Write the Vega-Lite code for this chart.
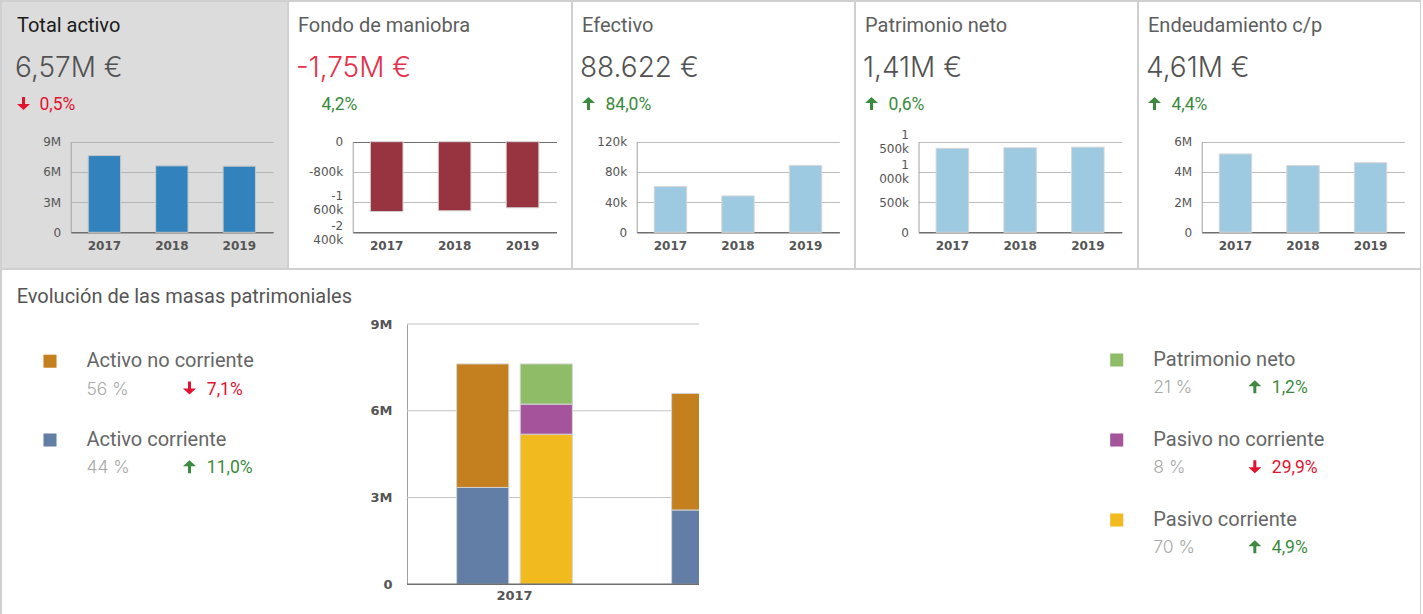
{
  "$schema": "https://vega.github.io/schema/vega-lite/v6.json",
  "background": "#d0d0d0",
  "padding": {"left": 2, "top": 2, "right": 1, "bottom": 0},
  "datasets": {
    "kpis": [
      {"kpi": "Total activo", "value": "6,57M €", "arrow": "down", "change": "0,5%", "dir": "down"},
      {"kpi": "Fondo de maniobra", "value": "-1,75M €", "arrow": "none", "change": "4,2%", "dir": "up"},
      {"kpi": "Efectivo", "value": "88.622 €", "arrow": "up", "change": "84,0%", "dir": "up"},
      {"kpi": "Patrimonio neto", "value": "1,41M €", "arrow": "up", "change": "0,6%", "dir": "up"},
      {"kpi": "Endeudamiento c/p", "value": "4,61M €", "arrow": "up", "change": "4,4%", "dir": "up"}
    ],
    "series": [
      {"kpi": "Total activo", "year": "2017", "value": 7620000},
      {"kpi": "Total activo", "year": "2018", "value": 6600000},
      {"kpi": "Total activo", "year": "2019", "value": 6570000},
      {"kpi": "Fondo de maniobra", "year": "2017", "value": -1850000},
      {"kpi": "Fondo de maniobra", "year": "2018", "value": -1830000},
      {"kpi": "Fondo de maniobra", "year": "2019", "value": -1750000},
      {"kpi": "Efectivo", "year": "2017", "value": 60500},
      {"kpi": "Efectivo", "year": "2018", "value": 48200},
      {"kpi": "Efectivo", "year": "2019", "value": 88622},
      {"kpi": "Patrimonio neto", "year": "2017", "value": 1390000},
      {"kpi": "Patrimonio neto", "year": "2018", "value": 1400000},
      {"kpi": "Patrimonio neto", "year": "2019", "value": 1410000},
      {"kpi": "Endeudamiento c/p", "year": "2017", "value": 5190000},
      {"kpi": "Endeudamiento c/p", "year": "2018", "value": 4420000},
      {"kpi": "Endeudamiento c/p", "year": "2019", "value": 4610000}
    ],
    "masses": [
      {"year": "2017", "side": "Activo", "mass": "Activo corriente", "value": 3350000},
      {"year": "2017", "side": "Activo", "mass": "Activo no corriente", "value": 4270000},
      {"year": "2017", "side": "Pasivo", "mass": "Pasivo corriente", "value": 5190000},
      {"year": "2017", "side": "Pasivo", "mass": "Pasivo no corriente", "value": 1040000},
      {"year": "2017", "side": "Pasivo", "mass": "Patrimonio neto", "value": 1390000},
      {"year": "2018", "side": "Activo", "mass": "Activo corriente", "value": 2570000},
      {"year": "2018", "side": "Activo", "mass": "Activo no corriente", "value": 4030000},
      {"year": "2018", "side": "Pasivo", "mass": "Pasivo corriente", "value": 4420000},
      {"year": "2018", "side": "Pasivo", "mass": "Pasivo no corriente", "value": 780000},
      {"year": "2018", "side": "Pasivo", "mass": "Patrimonio neto", "value": 1400000},
      {"year": "2019", "side": "Activo", "mass": "Activo corriente", "value": 2860000},
      {"year": "2019", "side": "Activo", "mass": "Activo no corriente", "value": 3710000},
      {"year": "2019", "side": "Pasivo", "mass": "Pasivo corriente", "value": 4610000},
      {"year": "2019", "side": "Pasivo", "mass": "Pasivo no corriente", "value": 550000},
      {"year": "2019", "side": "Pasivo", "mass": "Patrimonio neto", "value": 1410000}
    ],
    "legend": [
      {"panel": "left", "mass": "Activo no corriente", "share": "56 %", "arrow": "down", "change": "7,1%", "dir": "down"},
      {"panel": "left", "mass": "Activo corriente", "share": "44 %", "arrow": "up", "change": "11,0%", "dir": "up"},
      {"panel": "right", "mass": "Patrimonio neto", "share": "21 %", "arrow": "up", "change": "1,2%", "dir": "up"},
      {"panel": "right", "mass": "Pasivo no corriente", "share": "8 %", "arrow": "down", "change": "29,9%", "dir": "down"},
      {"panel": "right", "mass": "Pasivo corriente", "share": "70 %", "arrow": "up", "change": "4,9%", "dir": "up"}
    ],
    "heading": [
      {"heading": "Evolución de las masas patrimoniales"}
    ]
  },
  "spacing": 2,
  "resolve": {"scale": {"color": "independent", "shape": "independent"}},
  "vconcat": [
    {
      "spacing": 2,
      "bounds": "flush",
      "resolve": {"scale": {"color": "independent", "shape": "independent"}},
      "hconcat": [
        {
          "width": 285, "height": 266,
          "view": {"fill": "#dcdcdc", "stroke": null},
          "resolve": {"scale": {"x": "independent", "y": "independent"}},
          "layer": [
            {
              "data": {"name": "series"},
              "transform": [{"filter": "datum.kpi === 'Total activo'"}],
              "mark": {"type": "bar", "color": "#3182bd", "stroke": "#c8c8c8", "strokeWidth": 1},
              "encoding": {
                "x": {"field": "year", "type": "nominal", "scale": {"range": [68.7, 271], "paddingInner": 0.52, "paddingOuter": 0.26}, "axis": {"title": null, "offset": -35.7, "labelAngle": 0, "labelPadding": 8}},
                "y": {"field": "value", "type": "quantitative", "scale": {"domain": [0, 9000000], "range": [230.3, 139.7], "nice": false}, "axis": {"title": null, "values": [0, 3000000, 6000000, 9000000], "labelExpr": "datum.value == 0 ? '0' : format(datum.value, '~s')", "offset": -68.7, "labelPadding": 10, "labelLineHeight": 14, "gridColor": {"condition": {"test": "datum.value === 0", "value": "#6e6e6e"}, "value": "#b4b4b4"}}}
              }
            },
            {
              "data": {"name": "kpis"},
              "transform": [{"filter": "datum.kpi === 'Total activo'"}],
              "layer": [
                {"mark": {"type": "text", "align": "left", "baseline": "alphabetic", "fontSize": 20, "color": "#1a1a1a"},
                 "encoding": {"x": {"datum": "lead", "type": "nominal", "scale": {"type": "point", "domain": ["lead", "pct"], "range": [15, 37.5], "padding": 0}, "axis": null}, "y": {"datum": "title", "type": "nominal", "scale": {"type": "point", "domain": ["title", "value", "change"], "range": [30.3, 108], "padding": 0}, "axis": null}, "text": {"field": "kpi"}}},
                {"mark": {"type": "text", "align": "left", "baseline": "alphabetic", "font": "Inter", "fontSize": 28, "fontWeight": 300, "color": "#525252", "dx": -2, "dy": 6.2},
                 "encoding": {"x": {"datum": "lead", "type": "nominal", "scale": {"type": "point", "domain": ["lead", "pct"], "range": [15, 37.5], "padding": 0}, "axis": null}, "y": {"datum": "value", "type": "nominal", "scale": {"type": "point", "domain": ["title", "value", "change"], "range": [30.3, 108], "padding": 0}, "axis": null}, "text": {"field": "value"}}},
                {"transform": [{"filter": "datum.arrow !== 'none'"}],
                 "mark": {"type": "point", "filled": true, "size": 169, "opacity": 1},
                 "encoding": {"x": {"datum": "lead", "type": "nominal", "scale": {"type": "point", "domain": ["lead", "pct"], "range": [15, 37.5], "padding": 0}, "axis": null}, "y": {"datum": "change", "type": "nominal", "scale": {"type": "point", "domain": ["title", "value", "change"], "range": [30.3, 108], "padding": 0}, "axis": null}, "shape": {"field": "arrow", "type": "nominal", "scale": {"domain": ["down", "up"], "range": ["M0.77,-2 L1.23,-2 L1.23,-0.92 L2,-0.92 L1,0 L0,-0.92 L0.77,-0.92 Z", "M1,-2 L2,-1.08 L1.23,-1.08 L1.23,0 L0.77,0 L0.77,-1.08 L0,-1.08 Z"]}, "legend": null}, "color": {"field": "dir", "type": "nominal", "scale": {"domain": ["down", "up"], "range": ["#e3122f", "#3b8a3d"]}, "legend": null}}},
                {"mark": {"type": "text", "align": "left", "baseline": "alphabetic", "fontSize": 17.5},
                 "encoding": {"x": {"datum": "pct", "type": "nominal", "scale": {"type": "point", "domain": ["lead", "pct"], "range": [15, 37.5], "padding": 0}, "axis": null}, "y": {"datum": "change", "type": "nominal", "scale": {"type": "point", "domain": ["title", "value", "change"], "range": [30.3, 108], "padding": 0}, "axis": null}, "text": {"field": "change"}, "color": {"field": "dir", "type": "nominal", "scale": {"domain": ["down", "up"], "range": ["#e3122f", "#3b8a3d"]}, "legend": null}}}
              ]
            }
          ]
        },
        {
          "width": 282, "height": 266,
          "view": {"fill": "#ffffff", "stroke": null},
          "resolve": {"scale": {"x": "independent", "y": "independent"}},
          "layer": [
            {
              "data": {"name": "series"},
              "transform": [{"filter": "datum.kpi === 'Fondo de maniobra'"}],
              "mark": {"type": "bar", "color": "#973440", "stroke": "#d0d0d0", "strokeWidth": 1},
              "encoding": {
                "x": {"field": "year", "type": "nominal", "scale": {"range": [63.7, 267.5], "paddingInner": 0.52, "paddingOuter": 0.26}, "axis": {"title": null, "offset": -35.7, "labelAngle": 0, "labelPadding": 8}},
                "y": {"field": "value", "type": "quantitative", "scale": {"domain": [-2400000, 0], "range": [230.3, 139.7], "nice": false}, "axis": {"title": null, "values": [0, -800000, -1600000, -2400000], "labelExpr": "datum.value == 0 ? '0' : abs(datum.value) >= 1000000 ? [(datum.value < 0 ? '-' : '') + floor(abs(datum.value) / 1000000), format((abs(datum.value) % 1000000) / 1000, '03d') + 'k'] : (datum.value < 0 ? '-' : '') + (abs(datum.value) / 1000) + 'k'", "labelOffset": {"condition": {"test": "abs(datum.value) >= 1000000", "value": -7}, "value": 0}, "offset": -63.7, "labelPadding": 10, "labelLineHeight": 14, "gridColor": {"condition": {"test": "datum.value === 0", "value": "#6e6e6e"}, "value": "#bdbdbd"}}}
              }
            },
            {
              "data": {"name": "kpis"},
              "transform": [{"filter": "datum.kpi === 'Fondo de maniobra'"}],
              "layer": [
                {"mark": {"type": "text", "align": "left", "baseline": "alphabetic", "fontSize": 20, "color": "#5e5e5e"},
                 "encoding": {"x": {"datum": "lead", "type": "nominal", "scale": {"type": "point", "domain": ["lead", "pct"], "range": [9, 32.5], "padding": 0}, "axis": null}, "y": {"datum": "title", "type": "nominal", "scale": {"type": "point", "domain": ["title", "value", "change"], "range": [30.3, 108], "padding": 0}, "axis": null}, "text": {"field": "kpi"}}},
                {"mark": {"type": "text", "align": "left", "baseline": "alphabetic", "font": "Inter", "fontSize": 28, "fontWeight": 300, "color": "#e5304a", "dx": -2, "dy": 6.2},
                 "encoding": {"x": {"datum": "lead", "type": "nominal", "scale": {"type": "point", "domain": ["lead", "pct"], "range": [9, 32.5], "padding": 0}, "axis": null}, "y": {"datum": "value", "type": "nominal", "scale": {"type": "point", "domain": ["title", "value", "change"], "range": [30.3, 108], "padding": 0}, "axis": null}, "text": {"field": "value"}}},
                {"transform": [{"filter": "datum.arrow !== 'none'"}],
                 "mark": {"type": "point", "filled": true, "size": 169, "opacity": 1},
                 "encoding": {"x": {"datum": "lead", "type": "nominal", "scale": {"type": "point", "domain": ["lead", "pct"], "range": [9, 32.5], "padding": 0}, "axis": null}, "y": {"datum": "change", "type": "nominal", "scale": {"type": "point", "domain": ["title", "value", "change"], "range": [30.3, 108], "padding": 0}, "axis": null}, "shape": {"field": "arrow", "type": "nominal", "scale": {"domain": ["down", "up"], "range": ["M0.77,-2 L1.23,-2 L1.23,-0.92 L2,-0.92 L1,0 L0,-0.92 L0.77,-0.92 Z", "M1,-2 L2,-1.08 L1.23,-1.08 L1.23,0 L0.77,0 L0.77,-1.08 L0,-1.08 Z"]}, "legend": null}, "color": {"field": "dir", "type": "nominal", "scale": {"domain": ["down", "up"], "range": ["#e3122f", "#3b8a3d"]}, "legend": null}}},
                {"mark": {"type": "text", "align": "left", "baseline": "alphabetic", "fontSize": 17.5},
                 "encoding": {"x": {"datum": "pct", "type": "nominal", "scale": {"type": "point", "domain": ["lead", "pct"], "range": [9, 32.5], "padding": 0}, "axis": null}, "y": {"datum": "change", "type": "nominal", "scale": {"type": "point", "domain": ["title", "value", "change"], "range": [30.3, 108], "padding": 0}, "axis": null}, "text": {"field": "change"}, "color": {"field": "dir", "type": "nominal", "scale": {"domain": ["down", "up"], "range": ["#e3122f", "#3b8a3d"]}, "legend": null}}}
              ]
            }
          ]
        },
        {
          "width": 281, "height": 266,
          "view": {"fill": "#ffffff", "stroke": null},
          "resolve": {"scale": {"x": "independent", "y": "independent"}},
          "layer": [
            {
              "data": {"name": "series"},
              "transform": [{"filter": "datum.kpi === 'Efectivo'"}],
              "mark": {"type": "bar", "color": "#9ecae1", "stroke": "#d6d6d6", "strokeWidth": 1},
              "encoding": {
                "x": {"field": "year", "type": "nominal", "scale": {"range": [63.7, 266.3], "paddingInner": 0.52, "paddingOuter": 0.26}, "axis": {"title": null, "offset": -35.7, "labelAngle": 0, "labelPadding": 8}},
                "y": {"field": "value", "type": "quantitative", "scale": {"domain": [0, 120000], "range": [230.3, 139.7], "nice": false}, "axis": {"title": null, "values": [0, 40000, 80000, 120000], "labelExpr": "datum.value == 0 ? '0' : format(datum.value, '~s')", "offset": -63.7, "labelPadding": 10, "labelLineHeight": 14, "gridColor": {"condition": {"test": "datum.value === 0", "value": "#6e6e6e"}, "value": "#bdbdbd"}}}
              }
            },
            {
              "data": {"name": "kpis"},
              "transform": [{"filter": "datum.kpi === 'Efectivo'"}],
              "layer": [
                {"mark": {"type": "text", "align": "left", "baseline": "alphabetic", "fontSize": 20, "color": "#5e5e5e"},
                 "encoding": {"x": {"datum": "lead", "type": "nominal", "scale": {"type": "point", "domain": ["lead", "pct"], "range": [9, 32.5], "padding": 0}, "axis": null}, "y": {"datum": "title", "type": "nominal", "scale": {"type": "point", "domain": ["title", "value", "change"], "range": [30.3, 108], "padding": 0}, "axis": null}, "text": {"field": "kpi"}}},
                {"mark": {"type": "text", "align": "left", "baseline": "alphabetic", "font": "Inter", "fontSize": 28, "fontWeight": 300, "color": "#525252", "dx": -2, "dy": 6.2},
                 "encoding": {"x": {"datum": "lead", "type": "nominal", "scale": {"type": "point", "domain": ["lead", "pct"], "range": [9, 32.5], "padding": 0}, "axis": null}, "y": {"datum": "value", "type": "nominal", "scale": {"type": "point", "domain": ["title", "value", "change"], "range": [30.3, 108], "padding": 0}, "axis": null}, "text": {"field": "value"}}},
                {"transform": [{"filter": "datum.arrow !== 'none'"}],
                 "mark": {"type": "point", "filled": true, "size": 169, "opacity": 1},
                 "encoding": {"x": {"datum": "lead", "type": "nominal", "scale": {"type": "point", "domain": ["lead", "pct"], "range": [9, 32.5], "padding": 0}, "axis": null}, "y": {"datum": "change", "type": "nominal", "scale": {"type": "point", "domain": ["title", "value", "change"], "range": [30.3, 108], "padding": 0}, "axis": null}, "shape": {"field": "arrow", "type": "nominal", "scale": {"domain": ["down", "up"], "range": ["M0.77,-2 L1.23,-2 L1.23,-0.92 L2,-0.92 L1,0 L0,-0.92 L0.77,-0.92 Z", "M1,-2 L2,-1.08 L1.23,-1.08 L1.23,0 L0.77,0 L0.77,-1.08 L0,-1.08 Z"]}, "legend": null}, "color": {"field": "dir", "type": "nominal", "scale": {"domain": ["down", "up"], "range": ["#e3122f", "#3b8a3d"]}, "legend": null}}},
                {"mark": {"type": "text", "align": "left", "baseline": "alphabetic", "fontSize": 17.5},
                 "encoding": {"x": {"datum": "pct", "type": "nominal", "scale": {"type": "point", "domain": ["lead", "pct"], "range": [9, 32.5], "padding": 0}, "axis": null}, "y": {"datum": "change", "type": "nominal", "scale": {"type": "point", "domain": ["title", "value", "change"], "range": [30.3, 108], "padding": 0}, "axis": null}, "text": {"field": "change"}, "color": {"field": "dir", "type": "nominal", "scale": {"domain": ["down", "up"], "range": ["#e3122f", "#3b8a3d"]}, "legend": null}}}
              ]
            }
          ]
        },
        {
          "width": 281, "height": 266,
          "view": {"fill": "#ffffff", "stroke": null},
          "resolve": {"scale": {"x": "independent", "y": "independent"}},
          "layer": [
            {
              "data": {"name": "series"},
              "transform": [{"filter": "datum.kpi === 'Patrimonio neto'"}],
              "mark": {"type": "bar", "color": "#9ecae1", "stroke": "#d6d6d6", "strokeWidth": 1},
              "encoding": {
                "x": {"field": "year", "type": "nominal", "scale": {"range": [62.5, 265.7], "paddingInner": 0.52, "paddingOuter": 0.26}, "axis": {"title": null, "offset": -35.7, "labelAngle": 0, "labelPadding": 8}},
                "y": {"field": "value", "type": "quantitative", "scale": {"domain": [0, 1500000], "range": [230.3, 139.7], "nice": false}, "axis": {"title": null, "values": [0, 500000, 1000000, 1500000], "labelExpr": "datum.value == 0 ? '0' : abs(datum.value) >= 1000000 ? [(datum.value < 0 ? '-' : '') + floor(abs(datum.value) / 1000000), format((abs(datum.value) % 1000000) / 1000, '03d') + 'k'] : (datum.value < 0 ? '-' : '') + (abs(datum.value) / 1000) + 'k'", "labelOffset": {"condition": {"test": "abs(datum.value) >= 1000000", "value": -7}, "value": 0}, "offset": -62.5, "labelPadding": 10, "labelLineHeight": 14, "gridColor": {"condition": {"test": "datum.value === 0", "value": "#6e6e6e"}, "value": "#bdbdbd"}}}
              }
            },
            {
              "data": {"name": "kpis"},
              "transform": [{"filter": "datum.kpi === 'Patrimonio neto'"}],
              "layer": [
                {"mark": {"type": "text", "align": "left", "baseline": "alphabetic", "fontSize": 20, "color": "#5e5e5e"},
                 "encoding": {"x": {"datum": "lead", "type": "nominal", "scale": {"type": "point", "domain": ["lead", "pct"], "range": [9, 32.5], "padding": 0}, "axis": null}, "y": {"datum": "title", "type": "nominal", "scale": {"type": "point", "domain": ["title", "value", "change"], "range": [30.3, 108], "padding": 0}, "axis": null}, "text": {"field": "kpi"}}},
                {"mark": {"type": "text", "align": "left", "baseline": "alphabetic", "font": "Inter", "fontSize": 28, "fontWeight": 300, "color": "#525252", "dx": -2, "dy": 6.2},
                 "encoding": {"x": {"datum": "lead", "type": "nominal", "scale": {"type": "point", "domain": ["lead", "pct"], "range": [9, 32.5], "padding": 0}, "axis": null}, "y": {"datum": "value", "type": "nominal", "scale": {"type": "point", "domain": ["title", "value", "change"], "range": [30.3, 108], "padding": 0}, "axis": null}, "text": {"field": "value"}}},
                {"transform": [{"filter": "datum.arrow !== 'none'"}],
                 "mark": {"type": "point", "filled": true, "size": 169, "opacity": 1},
                 "encoding": {"x": {"datum": "lead", "type": "nominal", "scale": {"type": "point", "domain": ["lead", "pct"], "range": [9, 32.5], "padding": 0}, "axis": null}, "y": {"datum": "change", "type": "nominal", "scale": {"type": "point", "domain": ["title", "value", "change"], "range": [30.3, 108], "padding": 0}, "axis": null}, "shape": {"field": "arrow", "type": "nominal", "scale": {"domain": ["down", "up"], "range": ["M0.77,-2 L1.23,-2 L1.23,-0.92 L2,-0.92 L1,0 L0,-0.92 L0.77,-0.92 Z", "M1,-2 L2,-1.08 L1.23,-1.08 L1.23,0 L0.77,0 L0.77,-1.08 L0,-1.08 Z"]}, "legend": null}, "color": {"field": "dir", "type": "nominal", "scale": {"domain": ["down", "up"], "range": ["#e3122f", "#3b8a3d"]}, "legend": null}}},
                {"mark": {"type": "text", "align": "left", "baseline": "alphabetic", "fontSize": 17.5},
                 "encoding": {"x": {"datum": "pct", "type": "nominal", "scale": {"type": "point", "domain": ["lead", "pct"], "range": [9, 32.5], "padding": 0}, "axis": null}, "y": {"datum": "change", "type": "nominal", "scale": {"type": "point", "domain": ["title", "value", "change"], "range": [30.3, 108], "padding": 0}, "axis": null}, "text": {"field": "change"}, "color": {"field": "dir", "type": "nominal", "scale": {"domain": ["down", "up"], "range": ["#e3122f", "#3b8a3d"]}, "legend": null}}}
              ]
            }
          ]
        },
        {
          "width": 281, "height": 266,
          "view": {"fill": "#ffffff", "stroke": null},
          "resolve": {"scale": {"x": "independent", "y": "independent"}},
          "layer": [
            {
              "data": {"name": "series"},
              "transform": [{"filter": "datum.kpi === 'Endeudamiento c/p'"}],
              "mark": {"type": "bar", "color": "#9ecae1", "stroke": "#d6d6d6", "strokeWidth": 1},
              "encoding": {
                "x": {"field": "year", "type": "nominal", "scale": {"range": [62.7, 265.3], "paddingInner": 0.52, "paddingOuter": 0.26}, "axis": {"title": null, "offset": -35.7, "labelAngle": 0, "labelPadding": 8}},
                "y": {"field": "value", "type": "quantitative", "scale": {"domain": [0, 6000000], "range": [230.3, 139.7], "nice": false}, "axis": {"title": null, "values": [0, 2000000, 4000000, 6000000], "labelExpr": "datum.value == 0 ? '0' : format(datum.value, '~s')", "offset": -62.7, "labelPadding": 10, "labelLineHeight": 14, "gridColor": {"condition": {"test": "datum.value === 0", "value": "#6e6e6e"}, "value": "#bdbdbd"}}}
              }
            },
            {
              "data": {"name": "kpis"},
              "transform": [{"filter": "datum.kpi === 'Endeudamiento c/p'"}],
              "layer": [
                {"mark": {"type": "text", "align": "left", "baseline": "alphabetic", "fontSize": 20, "color": "#5e5e5e"},
                 "encoding": {"x": {"datum": "lead", "type": "nominal", "scale": {"type": "point", "domain": ["lead", "pct"], "range": [9, 32.5], "padding": 0}, "axis": null}, "y": {"datum": "title", "type": "nominal", "scale": {"type": "point", "domain": ["title", "value", "change"], "range": [30.3, 108], "padding": 0}, "axis": null}, "text": {"field": "kpi"}}},
                {"mark": {"type": "text", "align": "left", "baseline": "alphabetic", "font": "Inter", "fontSize": 28, "fontWeight": 300, "color": "#525252", "dx": -2, "dy": 6.2},
                 "encoding": {"x": {"datum": "lead", "type": "nominal", "scale": {"type": "point", "domain": ["lead", "pct"], "range": [9, 32.5], "padding": 0}, "axis": null}, "y": {"datum": "value", "type": "nominal", "scale": {"type": "point", "domain": ["title", "value", "change"], "range": [30.3, 108], "padding": 0}, "axis": null}, "text": {"field": "value"}}},
                {"transform": [{"filter": "datum.arrow !== 'none'"}],
                 "mark": {"type": "point", "filled": true, "size": 169, "opacity": 1},
                 "encoding": {"x": {"datum": "lead", "type": "nominal", "scale": {"type": "point", "domain": ["lead", "pct"], "range": [9, 32.5], "padding": 0}, "axis": null}, "y": {"datum": "change", "type": "nominal", "scale": {"type": "point", "domain": ["title", "value", "change"], "range": [30.3, 108], "padding": 0}, "axis": null}, "shape": {"field": "arrow", "type": "nominal", "scale": {"domain": ["down", "up"], "range": ["M0.77,-2 L1.23,-2 L1.23,-0.92 L2,-0.92 L1,0 L0,-0.92 L0.77,-0.92 Z", "M1,-2 L2,-1.08 L1.23,-1.08 L1.23,0 L0.77,0 L0.77,-1.08 L0,-1.08 Z"]}, "legend": null}, "color": {"field": "dir", "type": "nominal", "scale": {"domain": ["down", "up"], "range": ["#e3122f", "#3b8a3d"]}, "legend": null}}},
                {"mark": {"type": "text", "align": "left", "baseline": "alphabetic", "fontSize": 17.5},
                 "encoding": {"x": {"datum": "pct", "type": "nominal", "scale": {"type": "point", "domain": ["lead", "pct"], "range": [9, 32.5], "padding": 0}, "axis": null}, "y": {"datum": "change", "type": "nominal", "scale": {"type": "point", "domain": ["title", "value", "change"], "range": [30.3, 108], "padding": 0}, "axis": null}, "text": {"field": "change"}, "color": {"field": "dir", "type": "nominal", "scale": {"domain": ["down", "up"], "range": ["#e3122f", "#3b8a3d"]}, "legend": null}}}
              ]
            }
          ]
        }
      ]
    },
    {
      "spacing": 0,
      "bounds": "flush",
      "resolve": {"scale": {"color": "independent", "shape": "independent"}},
      "hconcat": [
        {
          "width": 405, "height": 344,
          "view": {"fill": "#ffffff", "stroke": null},
          "resolve": {"scale": {"x": "independent", "y": "independent"}},
          "layer": [
            {
              "data": {"name": "heading"},
              "mark": {"type": "text", "align": "left", "baseline": "alphabetic", "fontSize": 20, "color": "#555555"},
              "encoding": {
                "x": {"datum": "title", "type": "nominal", "scale": {"type": "point", "domain": ["title"], "range": [14.7, 14.7], "padding": 0}, "axis": null},
                "y": {"datum": "title", "type": "nominal", "scale": {"type": "point", "domain": ["title"], "range": [33.3, 33.3], "padding": 0}, "axis": null},
                "text": {"field": "heading"}
              }
            },
            {
              "data": {"name": "legend"},
              "transform": [{"filter": "datum.panel === 'left'"}],
              "resolve": {"scale": {"color": "independent"}},
              "layer": [
                {"mark": {"type": "square", "size": 170, "opacity": 1},
                 "encoding": {"x": {"datum": "swatch", "type": "nominal", "scale": {"type": "point", "domain": ["swatch", "label"], "range": [48, 84.4], "padding": 0}, "axis": null}, "y": {"field": "mass", "type": "nominal", "scale": {"type": "point", "domain": ["Activo no corriente", "Activo corriente"], "range": [91.2, 170], "padding": 0}, "axis": null}, "color": {"field": "mass", "type": "nominal", "scale": {"domain": ["Activo no corriente", "Activo corriente", "Patrimonio neto", "Pasivo no corriente", "Pasivo corriente"], "range": ["#c47f1f", "#627ea6", "#8fbd67", "#a5539b", "#f1bb1f"]}, "legend": null}}},
                {"mark": {"type": "text", "align": "left", "baseline": "middle", "fontSize": 20, "color": "#666666"},
                 "encoding": {"x": {"datum": "label", "type": "nominal", "scale": {"type": "point", "domain": ["swatch", "label"], "range": [48, 84.4], "padding": 0}, "axis": null}, "y": {"field": "mass", "type": "nominal", "scale": {"type": "point", "domain": ["Activo no corriente", "Activo corriente"], "range": [91.2, 170], "padding": 0}, "axis": null}, "text": {"field": "mass"}}},
                {"mark": {"type": "text", "align": "left", "baseline": "middle", "font": "Inter", "fontSize": 17.5, "fontWeight": 300, "color": "#a8a8a8", "dy": 28.3},
                 "encoding": {"x": {"datum": "label", "type": "nominal", "scale": {"type": "point", "domain": ["swatch", "label"], "range": [48, 84.4], "padding": 0}, "axis": null}, "y": {"field": "mass", "type": "nominal", "scale": {"type": "point", "domain": ["Activo no corriente", "Activo corriente"], "range": [91.2, 170], "padding": 0}, "axis": null}, "text": {"field": "share"}}},
                {"mark": {"type": "point", "filled": true, "size": 169, "opacity": 1},
                 "encoding": {"x": {"datum": "label", "type": "nominal", "scale": {"type": "point", "domain": ["swatch", "label"], "range": [48, 84.4], "padding": 0}, "axis": null}, "y": {"field": "mass", "type": "nominal", "scale": {"type": "point", "domain": ["Activo no corriente", "Activo corriente"], "range": [91.2, 170], "padding": 0}, "axis": null}, "shape": {"field": "arrow", "type": "nominal", "scale": {"domain": ["down", "up"], "range": ["M15.63,3.12 L16.09,3.12 L16.09,4.2 L16.86,4.2 L15.86,5.12 L14.86,4.2 L15.63,4.2 Z", "M15.86,3.12 L16.86,4.04 L16.09,4.04 L16.09,5.12 L15.63,5.12 L15.63,4.04 L14.86,4.04 Z"]}, "legend": null}, "color": {"field": "dir", "type": "nominal", "scale": {"domain": ["down", "up"], "range": ["#e3122f", "#3b8a3d"]}, "legend": null}}},
                {"mark": {"type": "text", "align": "left", "baseline": "middle", "fontSize": 17.5, "dx": 120.4, "dy": 28.3},
                 "encoding": {"x": {"datum": "label", "type": "nominal", "scale": {"type": "point", "domain": ["swatch", "label"], "range": [48, 84.4], "padding": 0}, "axis": null}, "y": {"field": "mass", "type": "nominal", "scale": {"type": "point", "domain": ["Activo no corriente", "Activo corriente"], "range": [91.2, 170], "padding": 0}, "axis": null}, "text": {"field": "change"}, "color": {"field": "dir", "type": "nominal", "scale": {"domain": ["down", "up"], "range": ["#e3122f", "#3b8a3d"]}, "legend": null}}}
              ]
            }
          ]
        },
        {
          "width": 292, "height": 344,
          "view": {"fill": "#ffffff", "stroke": null},
          "layer": [
            {"data": {"values": [{}]}, "mark": {"type": "rule", "color": "#c4c4c4"}, "encoding": {"y": {"datum": 3000000, "type": "quantitative", "axis": {"title": null}}}},
            {"data": {"values": [{}]}, "mark": {"type": "rule", "color": "#c4c4c4"}, "encoding": {"y": {"datum": 6000000, "type": "quantitative", "axis": {"title": null}}}},
            {"data": {"values": [{}]}, "mark": {"type": "rule", "color": "#c4c4c4"}, "encoding": {"y": {"datum": 9000000, "type": "quantitative", "axis": {"title": null}}}},
            {
              "data": {"name": "masses"},
              "mark": {"type": "bar", "clip": true, "stroke": "#d4d4d4", "strokeWidth": 1},
              "encoding": {
                "x": {"field": "year", "type": "nominal", "scale": {"range": [0, 645], "paddingInner": 0, "paddingOuter": 0}, "axis": {"title": null, "values": ["2017"], "domain": false, "offset": -29.7, "labelPadding": 5, "labelAngle": 0, "labelFontSize": 13, "labelFontWeight": "bold"}},
                "xOffset": {"field": "side", "type": "nominal", "scale": {"paddingInner": 0.18, "paddingOuter": 0.78}},
                "y": {"field": "value", "type": "quantitative", "stack": "zero", "scale": {"domain": [0, 9000000], "range": [314.3, 54], "nice": false}, "axis": {"title": null, "values": [0, 3000000, 6000000, 9000000], "labelExpr": "datum.value == 0 ? '0' : format(datum.value, '~s')", "grid": false, "labelPadding": 15, "labelFontSize": 13, "labelFontWeight": "bold"}},
                "color": {"field": "mass", "type": "nominal", "scale": {"domain": ["Activo no corriente", "Activo corriente", "Patrimonio neto", "Pasivo no corriente", "Pasivo corriente"], "range": ["#c47f1f", "#627ea6", "#8fbd67", "#a5539b", "#f1bb1f"]}, "legend": null},
                "order": {"field": "mass", "type": "ordinal", "sort": "ascending"}
              }
            },
            {"data": {"values": [{}]}, "mark": {"type": "rule", "color": "#6e6e6e", "strokeWidth": 1.5}, "encoding": {"y": {"datum": 0, "type": "quantitative", "axis": {"title": null}}}}
          ]
        },
        {
          "width": 721, "height": 344,
          "view": {"fill": "#ffffff", "stroke": null},
          "data": {"name": "legend"},
          "transform": [{"filter": "datum.panel === 'right'"}],
          "resolve": {"scale": {"color": "independent"}},
          "layer": [
            {"mark": {"type": "square", "size": 170, "opacity": 1},
             "encoding": {"x": {"datum": "swatch", "type": "nominal", "scale": {"type": "point", "domain": ["swatch", "label"], "range": [417.7, 454.3], "padding": 0}, "axis": null}, "y": {"field": "mass", "type": "nominal", "scale": {"type": "point", "domain": ["Patrimonio neto", "Pasivo no corriente", "Pasivo corriente"], "range": [90, 250], "padding": 0}, "axis": null}, "color": {"field": "mass", "type": "nominal", "scale": {"domain": ["Activo no corriente", "Activo corriente", "Patrimonio neto", "Pasivo no corriente", "Pasivo corriente"], "range": ["#c47f1f", "#627ea6", "#8fbd67", "#a5539b", "#f1bb1f"]}, "legend": null}}},
            {"mark": {"type": "text", "align": "left", "baseline": "middle", "fontSize": 20, "color": "#666666"},
             "encoding": {"x": {"datum": "label", "type": "nominal", "scale": {"type": "point", "domain": ["swatch", "label"], "range": [417.7, 454.3], "padding": 0}, "axis": null}, "y": {"field": "mass", "type": "nominal", "scale": {"type": "point", "domain": ["Patrimonio neto", "Pasivo no corriente", "Pasivo corriente"], "range": [90, 250], "padding": 0}, "axis": null}, "text": {"field": "mass"}}},
            {"mark": {"type": "text", "align": "left", "baseline": "middle", "font": "Inter", "fontSize": 17.5, "fontWeight": 300, "color": "#a8a8a8", "dy": 28.3},
             "encoding": {"x": {"datum": "label", "type": "nominal", "scale": {"type": "point", "domain": ["swatch", "label"], "range": [417.7, 454.3], "padding": 0}, "axis": null}, "y": {"field": "mass", "type": "nominal", "scale": {"type": "point", "domain": ["Patrimonio neto", "Pasivo no corriente", "Pasivo corriente"], "range": [90, 250], "padding": 0}, "axis": null}, "text": {"field": "share"}}},
            {"mark": {"type": "point", "filled": true, "size": 169, "opacity": 1},
             "encoding": {"x": {"datum": "label", "type": "nominal", "scale": {"type": "point", "domain": ["swatch", "label"], "range": [417.7, 454.3], "padding": 0}, "axis": null}, "y": {"field": "mass", "type": "nominal", "scale": {"type": "point", "domain": ["Patrimonio neto", "Pasivo no corriente", "Pasivo corriente"], "range": [90, 250], "padding": 0}, "axis": null}, "shape": {"field": "arrow", "type": "nominal", "scale": {"domain": ["down", "up"], "range": ["M15.39,3.12 L15.85,3.12 L15.85,4.2 L16.62,4.2 L15.62,5.12 L14.62,4.2 L15.39,4.2 Z", "M15.62,3.12 L16.62,4.04 L15.85,4.04 L15.85,5.12 L15.39,5.12 L15.39,4.04 L14.62,4.04 Z"]}, "legend": null}, "color": {"field": "dir", "type": "nominal", "scale": {"domain": ["down", "up"], "range": ["#e3122f", "#3b8a3d"]}, "legend": null}}},
            {"mark": {"type": "text", "align": "left", "baseline": "middle", "fontSize": 17.5, "dx": 118.5, "dy": 28.3},
             "encoding": {"x": {"datum": "label", "type": "nominal", "scale": {"type": "point", "domain": ["swatch", "label"], "range": [417.7, 454.3], "padding": 0}, "axis": null}, "y": {"field": "mass", "type": "nominal", "scale": {"type": "point", "domain": ["Patrimonio neto", "Pasivo no corriente", "Pasivo corriente"], "range": [90, 250], "padding": 0}, "axis": null}, "text": {"field": "change"}, "color": {"field": "dir", "type": "nominal", "scale": {"domain": ["down", "up"], "range": ["#e3122f", "#3b8a3d"]}, "legend": null}}}
          ]
        }
      ]
    }
  ],
  "config": {
    "font": "Roboto",
    "view": {"stroke": null},
    "axis": {"labelFont": "DejaVu Sans", "labelColor": "#555555", "labelFontSize": 12, "ticks": false, "domainColor": "#a0a0a0", "gridColor": "#bdbdbd"},
    "axisX": {"domainColor": "#6e6e6e", "domainWidth": 1.5, "grid": false, "labelFontSize": 12, "labelFontWeight": "bold"},
    "axisY": {"grid": true}
  }
}
